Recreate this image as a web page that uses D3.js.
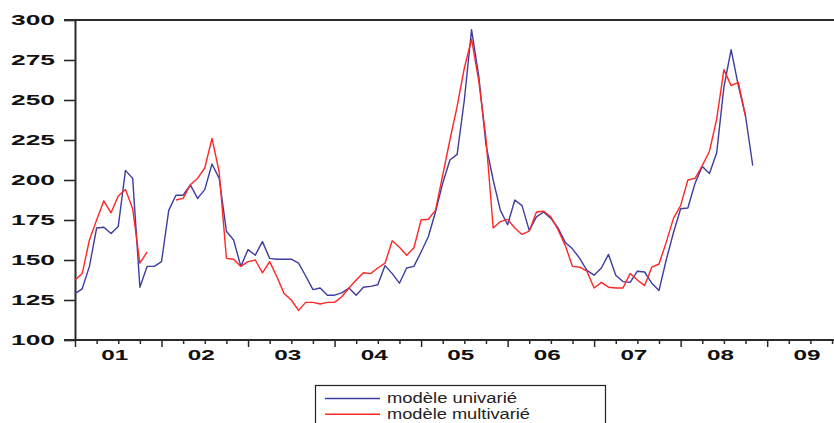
<!DOCTYPE html>
<html>
<head>
<meta charset="utf-8">
<script src="https://cdn.jsdelivr.net/npm/d3@7/dist/d3.min.js"></script>
<style>
  html, body { margin: 0; padding: 0; background: #fff; overflow: hidden; }
  svg { display: block; }
</style>
</head>
<body>
<svg id="chart" width="834" height="423"></svg>
<script>
// Monthly data, index 0 = January 2001
const startYear = 2001;
const univarie = [
  129, 132, 146, 170, 170.5, 166.5, 171, 206, 201, 133, 146, 146,
  149, 181, 190.5, 190.5, 197, 188.5, 194, 210, 201, 168, 162.5, 146,
  156.5, 153, 161.5, 151, 150.5, 150.5, 150.5, 148, 140, 131.5, 132.5, 128,
  128, 129.5, 132.5, 128, 133, 133.5, 134.5, 146.5, 141.5, 135.5, 145, 146,
  155, 164.5, 180, 198, 212.5, 216, 250, 294, 265, 222, 200, 181,
  172, 187.5, 184, 168.5, 177, 180, 176, 170, 161, 157, 151, 143.5,
  140.5, 145, 153.5, 140.5, 136.5, 136, 143, 142.5, 135.5, 131, 150, 167,
  182, 182.5, 198, 208.5, 204, 217, 258, 281.5, 259, 240, 209
];
const multivarie = [
  137.5, 141.5, 162.5, 175, 187, 179.5, 190, 194, 182, 148, 155, null,
  null, null, 187.5, 188.5, 197, 201, 207.5, 226, 205, 151, 150.5, 146,
  149, 150, 142, 149, 139.5, 129, 125, 118.5, 123.5, 123.5, 122.5, 123.5,
  123.5, 127, 132.5, 137.5, 142, 141.5, 145, 148, 162, 158, 153, 157.5,
  175, 175.5, 181, 203, 225, 246, 270, 288, 262, 226, 170, 174,
  175.4, 170, 166, 168, 180, 180.5, 177, 169, 159, 146, 145.5, 143,
  132.5, 136, 133, 132.5, 132.5, 141.5, 137.5, 134, 145.5, 147.5, 161, 176,
  184, 200, 201, 209, 218, 238, 269, 259, 261, 240
];
const yTicks = [100, 125, 150, 175, 200, 225, 250, 275, 300];
const years = [2001, 2002, 2003, 2004, 2005, 2006, 2007, 2008, 2009];
const yearLabels = ["01", "02", "03", "04", "05", "06", "07", "08", "09"];
const seriesNames = ["modèle univarié", "modèle multivarié"];
const seriesColors = ["#3d3da2", "#ff2626"];

const svg = d3.select("#chart");
const axisColor = "#2a2a2a";

const x = d3.scaleLinear().domain([2001, 2010]).range([75, 75 + 9 * 86.52]);
const y = d3.scaleLinear().domain([100, 300]).range([340, 20]);

const toYear = i => startYear + i / 12;

// Frame lines
svg.append("line").attr("x1", 64).attr("x2", 900).attr("y1", y(300)).attr("y2", y(300))
  .attr("stroke", axisColor).attr("stroke-width", 2);
svg.append("line").attr("x1", 64).attr("x2", 900).attr("y1", y(100)).attr("y2", y(100))
  .attr("stroke", axisColor).attr("stroke-width", 2);

// Y axis
const yAxis = svg.append("g").attr("transform", "translate(75,0)")
  .call(d3.axisLeft(y).tickValues(yTicks).tickSize(11).tickSizeOuter(0).tickPadding(8).tickFormat(d3.format("d")));
yAxis.select(".domain").attr("stroke", axisColor).attr("stroke-width", 2);
yAxis.selectAll(".tick line").attr("stroke", axisColor).attr("stroke-width", 1.6);
yAxis.selectAll(".tick text")
  .attr("fill", "#111")
  .attr("font-family", "'Liberation Sans', Arial, sans-serif")
  .attr("font-weight", "bold")
  .attr("font-size", "15px")
  .attr("x", -20)
  .attr("textLength", 44)
  .attr("lengthAdjust", "spacingAndGlyphs");

// X axis: quarter ticks (minor)
const quarters = [];
for (let yr = 2001; yr < 2010; yr++) for (let q = 0; q < 4; q++) quarters.push(yr + q / 4);
const xMinor = svg.append("g").attr("transform", "translate(0,340)")
  .call(d3.axisBottom(x).tickValues(quarters.filter(v => v % 1 !== 0)).tickSize(4).tickSizeOuter(0).tickFormat(""));
xMinor.select(".domain").remove();
xMinor.selectAll(".tick line").attr("stroke", axisColor).attr("stroke-width", 1.5);

const xMajor = svg.append("g").attr("transform", "translate(0,340)")
  .call(d3.axisBottom(x).tickValues(years).tickSize(7).tickSizeOuter(0).tickFormat(""));
xMajor.select(".domain").remove();
xMajor.selectAll(".tick line").attr("stroke", axisColor).attr("stroke-width", 1.5);

// Year labels at mid-year
const xLab = svg.append("g").attr("transform", "translate(-4,340)")
  .call(d3.axisBottom(x).tickValues(years.map(v => v + 0.5)).tickSize(0).tickPadding(10)
    .tickFormat((d, i) => yearLabels[i]));
xLab.select(".domain").remove();
xLab.selectAll(".tick text")
  .attr("fill", "#111")
  .attr("font-family", "'Liberation Sans', Arial, sans-serif")
  .attr("font-weight", "bold")
  .attr("font-size", "14px")
  .attr("textLength", 27)
  .attr("lengthAdjust", "spacingAndGlyphs");

// Series lines
const lineGen = arr => d3.line()
  .defined(d => d.v != null)
  .x(d => x(toYear(d.i)))
  .y(d => y(d.v))(arr.map((v, i) => ({ v, i })));

svg.append("path").attr("d", lineGen(univarie))
  .attr("fill", "none").attr("stroke", seriesColors[0]).attr("stroke-width", 1.4).attr("stroke-linejoin", "round");
svg.append("path").attr("d", lineGen(multivarie))
  .attr("fill", "none").attr("stroke", seriesColors[1]).attr("stroke-width", 1.4).attr("stroke-linejoin", "round");

// Legend
const legendWidths = [130, 143];
const legend = svg.append("g");
legend.append("rect").attr("x", 315.5).attr("y", 385.5).attr("width", 290).attr("height", 60)
  .attr("fill", "#fff").attr("stroke", "#222").attr("stroke-width", 1.2);
seriesNames.forEach((name, k) => {
  const ly = 398.5 + k * 15.7;
  legend.append("line").attr("x1", 325).attr("x2", 380).attr("y1", ly).attr("y2", ly)
    .attr("stroke", seriesColors[k]).attr("stroke-width", 1.4);
  legend.append("text").attr("x", 387).attr("y", ly + 4.5)
    .attr("font-family", "'Liberation Sans', Arial, sans-serif")
    .attr("font-size", "15.5px")
    .attr("textLength", legendWidths[k])
    .attr("lengthAdjust", "spacingAndGlyphs")
    .attr("fill", "#222")
    .text(name);
});
</script>
</body>
</html>
